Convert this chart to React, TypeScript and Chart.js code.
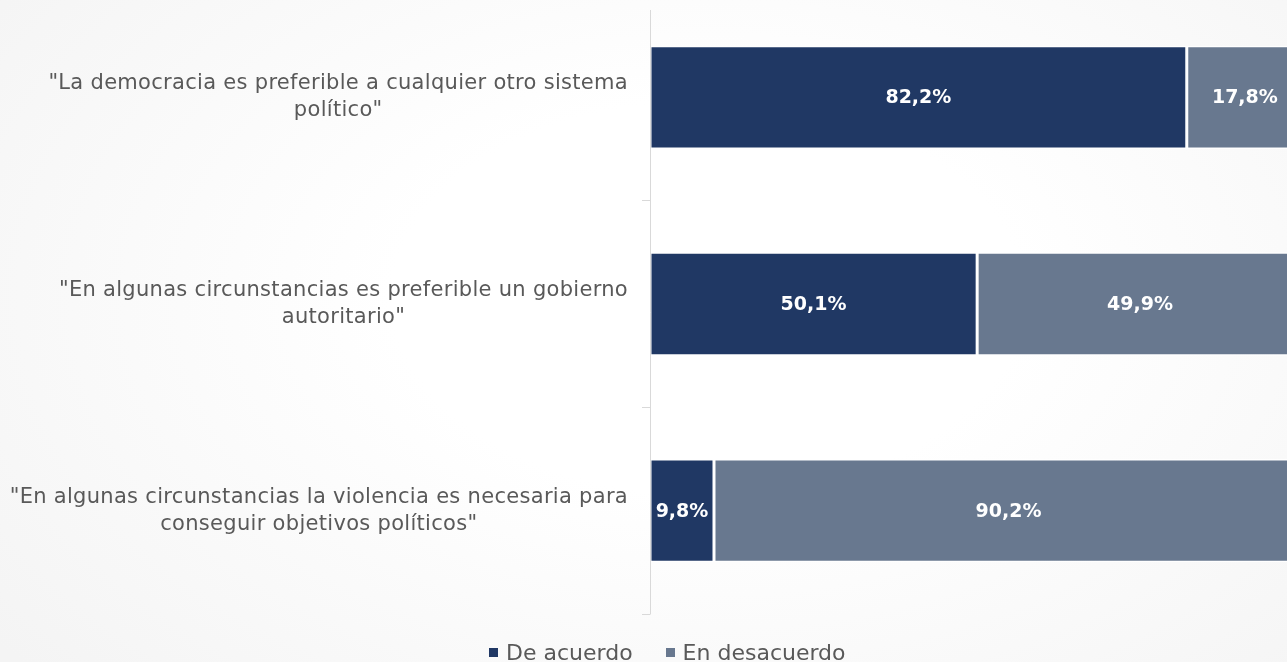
import React, { useEffect, useRef } from "react";
import { Chart, registerables } from "chart.js";

Chart.register(...registerables);

const categories: string[][] = [
  ['"La democracia es preferible a cualquier otro sistema', 'político"'],
  ['"En algunas circunstancias es preferible un gobierno', 'autoritario"'],
  ['"En algunas circunstancias la violencia es necesaria para', 'conseguir objetivos políticos"'],
];
const seriesNames = ["De acuerdo", "En desacuerdo"];
const seriesColors = ["#203864", "#68788f"];
const deAcuerdo = [82.2, 50.1, 9.8];
const enDesacuerdo = [17.8, 49.9, 90.2];

const FONT = '"DejaVu Sans", "Noto Sans", sans-serif';

const fmt = (v: number) => v.toFixed(1).replace(".", ",") + "%";

const labelPlugin = {
  id: "wrappedLabels",
  afterDraw(chart: any) {
    const { ctx, chartArea } = chart;
    const y = chart.scales.y;
    ctx.save();
    // axis line
    ctx.strokeStyle = "#d9d9d9";
    ctx.lineWidth = 1;
    ctx.beginPath();
    ctx.moveTo(chartArea.left + 0.5, chartArea.top + 16);
    ctx.lineTo(chartArea.left + 0.5, chartArea.bottom + 0.5);
    ctx.stroke();
    // category labels
    ctx.font = `21px ${FONT}`;
    try {
      (ctx as any).letterSpacing = "0.3px";
    } catch (e) {}
    ctx.fillStyle = "#595959";
    ctx.textBaseline = "middle";
    ctx.textAlign = "center";
    const lh = 27;
    categories.forEach((lines, i) => {
      const cy = y.getPixelForTick(i);
      const widest = Math.max(...lines.map((l) => ctx.measureText(l).width));
      const right = chartArea.left - 22;
      const cx = right - widest / 2;
      const start = cy - ((lines.length - 1) * lh) / 2;
      lines.forEach((l, j) => ctx.fillText(l, cx, start + j * lh));
    });
    ctx.restore();
  },
};

const valuePlugin = {
  id: "valueLabels",
  afterDatasetsDraw(chart: any) {
    const { ctx } = chart;
    ctx.save();
    ctx.font = `bold 19px ${FONT}`;
    ctx.fillStyle = "#ffffff";
    ctx.textAlign = "center";
    ctx.textBaseline = "middle";
    chart.data.datasets.forEach((ds: any, di: number) => {
      const meta = chart.getDatasetMeta(di);
      meta.data.forEach((el: any, i: number) => {
        const p = el.getCenterPoint();
        ctx.fillText(fmt(ds.data[i]), p.x, p.y + 1);
      });
    });
    ctx.restore();
  },
};

export default function App() {
  const ref = useRef<HTMLCanvasElement>(null);
  useEffect(() => {
    if (!ref.current) return;
    const mk = (i: number, data: number[]) => ({
      label: seriesNames[i],
      data,
      backgroundColor: seriesColors[i],
      borderColor: "#ffffff",
      borderWidth: 1.5,
      borderSkipped: false,
      categoryPercentage: 1,
      barPercentage: 0.5,
    });
    const chart = new Chart(ref.current, {
      type: "bar",
      data: {
        labels: categories.map((c) => c.join(" ")),
        datasets: [mk(0, deAcuerdo), mk(1, enDesacuerdo)],
      },
      options: {
        indexAxis: "y",
        responsive: false,
        animation: false,
        layout: { padding: { left: 0, top: 14, right: 0, bottom: 0 } },
        scales: {
          x: {
            stacked: true,
            min: 0,
            max: 100,
            display: true,
            grid: { display: false },
            ticks: { display: false },
            border: { display: false },
            afterFit: (s: any) => {
              s.height = 48;
            },
          },
          y: {
            stacked: true,
            grid: {
              offset: true,
              drawOnChartArea: false,
              drawTicks: true,
              tickLength: 8,
              color: "#d9d9d9",
            },
            border: { display: false },
            ticks: { display: false },
            afterFit: (s: any) => {
              s.width = 650;
            },
          },
        },
        plugins: {
          tooltip: { enabled: false },
          legend: { display: false },
        },
      },
      plugins: [labelPlugin, valuePlugin],
    } as any);
    return () => chart.destroy();
  }, []);
  return (
    <div
      style={{
        position: "fixed",
        inset: 0,
        overflow: "hidden",
        background:
          "radial-gradient(ellipse 70% 85% at 55% 45%, #ffffff 0%, #ffffff 35%, #f4f4f4 100%)",
      }}
    >
      <canvas
        ref={ref}
        width={1303}
        height={682}
        style={{ position: "absolute", left: 0, top: -20 }}
      />
      <div
        style={{
          position: "absolute",
          left: 489,
          top: 638,
          height: 28,
          display: "flex",
          alignItems: "center",
          fontFamily: FONT,
          fontSize: 22,
          color: "#595959",
          whiteSpace: "nowrap",
        }}
      >
        {seriesNames.map((n, i) => (
          <span
            key={n}
            style={{
              display: "inline-flex",
              alignItems: "center",
              marginRight: i === 0 ? 33 : 0,
            }}
          >
            <span
              style={{
                display: "inline-block",
                width: 9,
                height: 9,
                background: seriesColors[i],
                marginRight: 8,
              }}
            />
            {n}
          </span>
        ))}
      </div>
    </div>
  );
}
